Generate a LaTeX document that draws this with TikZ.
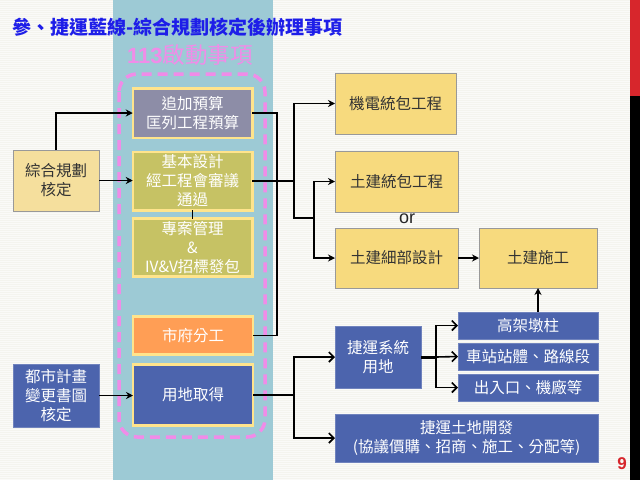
\documentclass[tikz,border=0pt]{standalone}
\usepackage{fontspec}
\newfontfamily\cjk{Noto Sans CJK TC}
\newfontfamily\lsans{Liberation Sans}
\usetikzlibrary{arrows.meta}
\definecolor{bgc}{HTML}{F4F4EE}
\definecolor{colc}{HTML}{9DCAD5}
\definecolor{redc}{HTML}{D7262C}
\definecolor{titc}{HTML}{1E1EE8}
\definecolor{pinkc}{HTML}{F08CE8}
\definecolor{ybord}{HTML}{FFE48C}
\definecolor{grayf}{HTML}{8D8DA7}
\definecolor{olivef}{HTML}{C6C264}
\definecolor{orangef}{HTML}{FF9E55}
\definecolor{bluef}{HTML}{4C64AD}
\definecolor{yellowf}{HTML}{F7DA7E}
\definecolor{tanf}{HTML}{F5DF9D}
\begin{document}
\begin{tikzpicture}[x=1pt,y=-1pt,
  txt/.style={font=\cjk\fontsize{15.5}{19}\selectfont, align=center, inner sep=0pt, outer sep=0pt},
  colbox/.style={txt, draw=ybord, line width=2.5pt, text=white},
  ybox/.style={txt, draw=black!40, line width=0.8pt, fill=yellowf, text=black!80},
  bbox/.style={txt, draw=bluef!80!white, line width=0.6pt, fill=bluef, text=white},
  arr/.style={-{Stealth[length=7pt,width=7pt]}, line width=1.6pt},
  oarr/.style={-{Straight Barb[length=5pt,width=10pt]}, line width=1.6pt},
  lnk/.style={line width=1.6pt}]
\useasboundingbox (0,0) rectangle (640,480);
\fill[bgc] (0,0) rectangle (640,480);
\foreach \yy in {1,3,...,479} \draw[white, line width=0.4pt, opacity=0.6] (0,\yy) -- (630,\yy);
\fill[colc] (113,0) rectangle (273,480);
\fill[redc] (630,0) rectangle (640,96);
\fill[black] (630,96) rectangle (640,480);

\node[anchor=west, inner sep=0pt, text=titc, font=\cjk\bfseries\fontsize{19}{21}\selectfont] (title) at (12,27) {參、捷運藍線-綜合規劃核定後辦理事項};
\node[anchor=west, inner sep=0pt, text=pinkc, font=\cjk\fontsize{22.5}{24}\selectfont] (start) at (127,55) {{\lsans\bfseries\fontsize{22}{24}\selectfont 113}啟動事項};

\draw[pinkc, line width=3.5pt, dash pattern=on 10pt off 6pt, rounded corners=18pt] (119,74) rectangle (265,437);

\node[colbox, fill=grayf, minimum width=119.5pt, minimum height=49.5pt] (b1) at (192.5,113) {追加預算\\匡列工程預算};
\node[colbox, fill=olivef, minimum width=119.5pt, minimum height=58.5pt] (b2) at (192.5,181) {基本設計\\經工程會審議\\通過};
\node[colbox, fill=olivef, minimum width=119.5pt, minimum height=58pt] (b3) at (192.5,247.5) {專案管理\\\&\\IV\&V招標發包};
\node[colbox, fill=orangef, minimum width=120pt, minimum height=38pt] (b4) at (193,335.5) {市府分工};
\node[colbox, fill=bluef, minimum width=120pt, minimum height=61pt] (b5) at (193,395) {用地取得};

\node[ybox, fill=tanf, minimum width=86pt, minimum height=61pt] (L1) at (56,180.5) {綜合規劃\\核定};
\node[bbox, minimum width=86pt, minimum height=63pt] (L2) at (56,395.5) {都市計畫\\變更書圖\\核定};

\node[ybox, minimum width=121pt, minimum height=61pt] (R1) at (395.5,103.5) {機電統包工程};
\node[ybox, minimum width=123pt, minimum height=61pt] (R2) at (396.5,181.5) {土建統包工程};
\node[ybox, minimum width=123pt, minimum height=60pt] (R3) at (396.5,258) {土建細部設計};
\node[ybox, minimum width=118pt, minimum height=60pt] (R4) at (538,258) {土建施工};
\node[bbox, minimum width=86pt, minimum height=62pt] (R5) at (378,357) {捷運系統\\用地};
\node[bbox, minimum width=140pt, minimum height=27pt] (R6) at (528,325.5) {高架墩柱};
\node[bbox, minimum width=140pt, minimum height=27pt] (R7) at (528,356.5) {車站站體、路線段};
\node[bbox, minimum width=140pt, minimum height=27pt] (R8) at (528,387.5) {出入口、機廠等};
\node[bbox, minimum width=263pt, minimum height=48pt] (R9) at (466.5,438) {捷運土地開發\\(協議價購、招商、施工、分配等)};

\node[inner sep=0pt, font=\lsans\fontsize{18}{20}\selectfont, text=black!85] (or) at (407,219) {or};
\node[inner sep=0pt, font=\lsans\bfseries\fontsize{17}{18}\selectfont, text=redc] (pg) at (622,464) {9};

% connectors
\draw[arr] (L1.north) |- (b1.west);
\draw[arr] (L1.east) -- (L1.east -| b2.west);
\draw[arr] (L2.east) -- (L2.east -| b5.west);
\draw[lnk] (b2.south) -- (b3.north);

\coordinate (j1) at (277,181);
\coordinate (j2) at (294,181);
\coordinate (j3) at (294,218);
\coordinate (j4) at (314,218);
\draw[lnk] (b1.east) -| (j1) |- (b4.east);
\draw[lnk] (b2.east) -- (j2) -- (j3) -- (j4);
\draw[arr] (j3) |- (R1.west);
\draw[arr] (j4) |- (R2.west);
\draw[arr] (j4) |- (R3.west);
\draw[arr] (R3.east) -- (R4.west);
\draw[arr] (R6.north -| R4.south) -- (R4.south);

\coordinate (j5) at (436,357);
\draw[line width=3pt] (R5.east) -- (j5);
\draw[oarr] (j5) |- (R6.west);
\draw[oarr] (j5) -- (R7.west);
\draw[oarr] (j5) |- (R8.west);

\coordinate (j6) at (294,395);
\draw[lnk] (b5.east) -- (j6);
\draw[oarr] (j6) |- (R5.west);
\draw[oarr] (j6) |- (R9.west);
\end{tikzpicture}
\end{document}
